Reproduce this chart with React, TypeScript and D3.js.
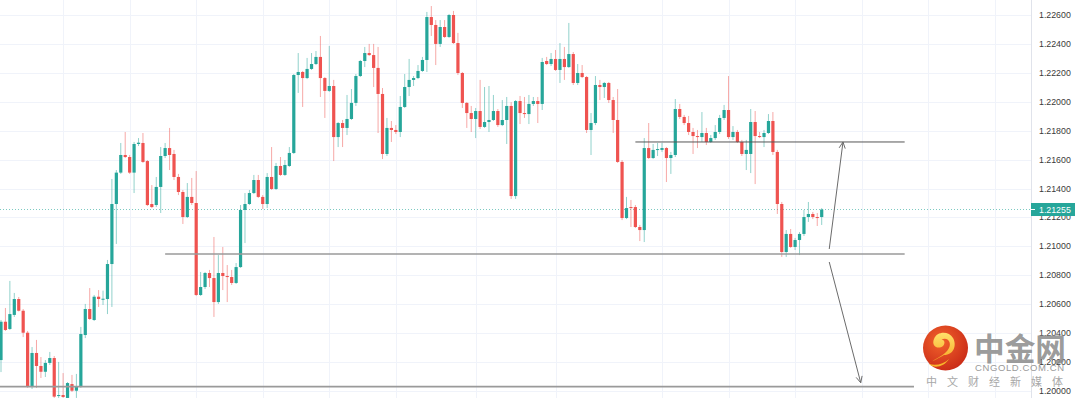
import React, { useEffect } from "react";
import * as d3 from "d3";

const W = 1080;
const H = 398;

// EURUSD-like candles
const opens = [
  1.20214, 1.20479, 1.20429, 1.20526, 1.20636, 1.20555, 1.20403, 1.2003, 1.20263, 1.20173,
  1.20133, 1.20194, 1.20228, 1.19965, 1.19972, 1.19952, 1.20048, 1.20002, 1.20028, 1.20387,
  1.20567, 1.20491, 1.20652, 1.20634, 1.20636, 1.20878, 1.21293, 1.2151, 1.21632, 1.21618,
  1.2151, 1.21708, 1.21715, 1.2159, 1.21293, 1.21286, 1.21411, 1.21625, 1.2168, 1.21639,
  1.2148, 1.21376, 1.21203, 1.21342, 1.213, 1.20664, 1.20719, 1.20816, 1.20781, 1.20615,
  1.20816, 1.20795, 1.20788, 1.20747, 1.20857, 1.21252, 1.21293, 1.21369, 1.21459, 1.21342,
  1.21293, 1.2148, 1.21397, 1.21556, 1.21494, 1.21556, 1.21646, 1.22185, 1.22206, 1.22164,
  1.22227, 1.22261, 1.2231, 1.22164, 1.22075, 1.22109, 1.21756, 1.21853, 1.21819, 1.21881,
  1.21992, 1.22178, 1.22282, 1.22337, 1.22323, 1.22234, 1.22054, 1.21639, 1.21819, 1.21805,
  1.21791, 1.21964, 1.22102, 1.22151, 1.22164, 1.22213, 1.22289, 1.22586, 1.22531, 1.224,
  1.22517, 1.22448, 1.226, 1.22406, 1.22199, 1.21992, 1.21922, 1.21881, 1.21936, 1.21826,
  1.2186, 1.21874, 1.21936, 1.21839, 1.21874, 1.21971, 1.21348, 1.22005, 1.21922, 1.21915,
  1.21985, 1.22005, 1.21985, 1.22282, 1.22261, 1.22296, 1.2222, 1.22296, 1.2224, 1.2233,
  1.2213, 1.22199, 1.22171, 1.21805, 1.21853, 1.22116, 1.22102, 1.2213, 1.22012, 1.21874,
  1.21584, 1.21196, 1.21272, 1.21272, 1.21134, 1.21113, 1.2168, 1.21611, 1.21667, 1.21667,
  1.2168, 1.21611, 1.21632, 1.2195, 1.21895, 1.21853, 1.21791, 1.21763, 1.21756, 1.21784,
  1.21722, 1.21749, 1.21791, 1.21888, 1.21943, 1.21756, 1.21791, 1.21722, 1.21639, 1.21639,
  1.2186, 1.21763, 1.21756, 1.21784, 1.21867, 1.21653, 1.21293, 1.20961, 1.21086, 1.20996,
  1.21044, 1.21086, 1.21203, 1.21224, 1.21203, 1.21203,
];
const closes = [
  1.20479, 1.20422, 1.20532, 1.20636, 1.20555, 1.20403, 1.2003, 1.20263, 1.20173, 1.20133,
  1.20194, 1.20228, 1.19961, 1.19972, 1.19959, 1.20055, 1.20002, 1.2003, 1.20394, 1.20567,
  1.20498, 1.20652, 1.20636, 1.20638, 1.20878, 1.21293, 1.2151, 1.21632, 1.21618, 1.2151,
  1.21708, 1.21717, 1.21584, 1.21286, 1.21272, 1.21411, 1.21625, 1.2168, 1.21632, 1.2148,
  1.21376, 1.21203, 1.21342, 1.213, 1.20664, 1.20719, 1.20816, 1.20781, 1.20615, 1.20816,
  1.20795, 1.20788, 1.20747, 1.20857, 1.21252, 1.21293, 1.21369, 1.21459, 1.21342, 1.21293,
  1.2148, 1.21397, 1.21556, 1.21494, 1.21563, 1.21646, 1.22185, 1.22206, 1.22164, 1.22227,
  1.22261, 1.2231, 1.22164, 1.22075, 1.22109, 1.21756, 1.21853, 1.21819, 1.21881, 1.21992,
  1.22178, 1.22282, 1.22337, 1.22323, 1.22234, 1.22054, 1.21639, 1.21819, 1.21805, 1.21791,
  1.21964, 1.22102, 1.22151, 1.22164, 1.22213, 1.22289, 1.22586, 1.22531, 1.224, 1.22517,
  1.22448, 1.226, 1.22406, 1.22199, 1.21992, 1.21922, 1.21881, 1.21936, 1.21826, 1.2186,
  1.21874, 1.21936, 1.21839, 1.21874, 1.21971, 1.21348, 1.22005, 1.21922, 1.21915, 1.21985,
  1.22005, 1.21985, 1.22275, 1.22261, 1.22296, 1.2222, 1.22296, 1.2224, 1.2233, 1.2213,
  1.22199, 1.22171, 1.21805, 1.21853, 1.22116, 1.22102, 1.2213, 1.22012, 1.21874, 1.21584,
  1.21196, 1.21265, 1.21265, 1.21134, 1.21113, 1.2168, 1.21611, 1.21667, 1.21673, 1.2168,
  1.21611, 1.21632, 1.2195, 1.21895, 1.21853, 1.21791, 1.21763, 1.21756, 1.21784, 1.21722,
  1.21749, 1.21791, 1.21888, 1.21943, 1.21756, 1.21791, 1.21722, 1.21639, 1.21667, 1.2186,
  1.21763, 1.21756, 1.21784, 1.21867, 1.21653, 1.21293, 1.20961, 1.21086, 1.20996, 1.21044,
  1.21086, 1.21203, 1.21224, 1.21203, 1.21196, 1.21255,
];
const highs = [
  1.20491, 1.20574, 1.20761, 1.20678, 1.2065, 1.20567, 1.20415, 1.20304, 1.20353, 1.20235,
  1.20214, 1.2027, 1.20242, 1.20201, 1.20124, 1.20062, 1.20111, 1.20118, 1.20443, 1.20602,
  1.20712, 1.20664, 1.20698, 1.20694, 1.20906, 1.21466, 1.21528, 1.21715, 1.21791, 1.21632,
  1.21722, 1.21749, 1.21784, 1.21597, 1.21424, 1.2148, 1.21687, 1.21715, 1.21819, 1.21667,
  1.21501, 1.2139, 1.21438, 1.21473, 1.21521, 1.20823, 1.20823, 1.20837, 1.21065, 1.2094,
  1.20996, 1.20871, 1.20837, 1.20885, 1.21286, 1.21369, 1.2139, 1.21494, 1.21494, 1.21355,
  1.21507, 1.21687, 1.21577, 1.21618, 1.21597, 1.21687, 1.22192, 1.22337, 1.22213, 1.22303,
  1.22337, 1.22351, 1.22455, 1.22171, 1.22386, 1.22151, 1.2186, 1.21874, 1.22047, 1.22088,
  1.22192, 1.22289, 1.22379, 1.224, 1.224, 1.22379, 1.22095, 1.21888, 1.21867, 1.21839,
  1.2204, 1.22192, 1.22296, 1.22178, 1.22254, 1.2231, 1.22621, 1.22662, 1.22565, 1.22565,
  1.22565, 1.22607, 1.22628, 1.22476, 1.22206, 1.21998, 1.21971, 1.21957, 1.22151, 1.22102,
  1.22109, 1.22047, 1.2195, 1.22012, 1.22033, 1.21998, 1.22012, 1.2204, 1.22033, 1.22047,
  1.22033, 1.22033, 1.22303, 1.2231, 1.22337, 1.22358, 1.22406, 1.22379, 1.22545, 1.22344,
  1.22261, 1.22254, 1.22178, 1.21922, 1.22178, 1.22151, 1.22137, 1.22137, 1.22033, 1.22088,
  1.21597, 1.21342, 1.21321, 1.21286, 1.21148, 1.21749, 1.21853, 1.21708, 1.21715, 1.21715,
  1.21687, 1.21653, 1.22019, 1.21985, 1.21909, 1.21902, 1.21819, 1.21805, 1.21929, 1.21819,
  1.2177, 1.21839, 1.21909, 1.21978, 1.22178, 1.21832, 1.21805, 1.21736, 1.21736, 1.2195,
  1.21936, 1.21791, 1.21805, 1.21915, 1.21929, 1.21667, 1.21307, 1.21113, 1.2112, 1.21058,
  1.21099, 1.21252, 1.21307, 1.21238, 1.21231, 1.21265,
];
const lows = [
  1.20131, 1.20415, 1.20422, 1.20512, 1.2055, 1.20373, 1.20021, 1.20014, 1.20021, 1.2009,
  1.20097, 1.2018, 1.19952, 1.19952, 1.19952, 1.19945, 1.19993, 1.19952, 1.20021, 1.20366,
  1.20491, 1.20484, 1.20581, 1.20595, 1.20532, 1.20581, 1.21017, 1.21501, 1.21611, 1.21501,
  1.21369, 1.21694, 1.21577, 1.21279, 1.21265, 1.21272, 1.21231, 1.21611, 1.21528, 1.21459,
  1.21355, 1.21155, 1.21196, 1.21286, 1.20657, 1.20657, 1.20705, 1.20719, 1.20512, 1.20602,
  1.20698, 1.20615, 1.20733, 1.2074, 1.20851, 1.21023, 1.21286, 1.21362, 1.21335, 1.21259,
  1.21265, 1.2139, 1.2139, 1.21487, 1.21487, 1.21549, 1.21639, 1.22061, 1.21964, 1.22157,
  1.2222, 1.22254, 1.22033, 1.21888, 1.22068, 1.2159, 1.21687, 1.21687, 1.2177, 1.21874,
  1.21971, 1.22171, 1.2224, 1.22317, 1.22102, 1.21784, 1.21604, 1.21625, 1.21722, 1.21777,
  1.21756, 1.21957, 1.2204, 1.22109, 1.22157, 1.22206, 1.22206, 1.22455, 1.22254, 1.22379,
  1.22441, 1.22441, 1.224, 1.22185, 1.21957, 1.21819, 1.21791, 1.21749, 1.21812, 1.21819,
  1.21791, 1.21867, 1.21826, 1.21832, 1.21708, 1.21328, 1.21328, 1.21846, 1.21888, 1.21846,
  1.21971, 1.21853, 1.21943, 1.22254, 1.22247, 1.22213, 1.2213, 1.22151, 1.22234, 1.22116,
  1.22116, 1.22164, 1.21784, 1.21632, 1.21839, 1.22012, 1.22026, 1.21992, 1.21784, 1.21577,
  1.21182, 1.21189, 1.21134, 1.21127, 1.21037, 1.2103, 1.21604, 1.21604, 1.21625, 1.21653,
  1.21445, 1.21501, 1.21618, 1.21881, 1.21839, 1.2177, 1.21639, 1.2168, 1.21722, 1.21701,
  1.21715, 1.21736, 1.21777, 1.21874, 1.21743, 1.21736, 1.21715, 1.21625, 1.21528, 1.21507,
  1.21431, 1.21749, 1.21687, 1.21777, 1.21632, 1.21224, 1.20927, 1.20927, 1.20989, 1.20975,
  1.2094, 1.21072, 1.21169, 1.21189, 1.21141, 1.21148,
];

const priceTicks = [
  1.2, 1.202, 1.204, 1.206, 1.208, 1.21, 1.212, 1.214, 1.216, 1.218, 1.22, 1.222, 1.224, 1.226,
];
// bar indices where the time grid lines fall
const timeGrid = [14, 29, 44, 59, 74, 89, 107, 125, 149, 164, 179, 194, 209, 224];
const lastPrice = 1.21255;

// drawn levels: price, first bar, last bar
const levelPrices = [1.21722, 1.20947, 1.2003];
const levelStart = [143, 37, -1];
const levelEnd = [203.7, 203.7, 205.8];

// arrows: [bar, price] -> [bar, price]
const arrowUp = [[186.7, 1.20982], [189.8, 1.21722]];
const arrowDown = [[186.7, 1.20892], [193.8, 1.20057]];

const UP = "#26a69a";
const DOWN = "#ef5350";

export default function App() {
  useEffect(() => {
    document.body.style.margin = "0";
  }, []);

  const plotRight = 1031;
  const x = d3.scaleLinear().domain([0, 185]).range([1, 821.7]);
  const y = d3.scaleLinear().domain([1.2, 1.226]).range([391, 15]);
  const bodyW = 3.2;

  const arrowHead = (pts: number[][]) => {
    const [x1, y1] = [x(pts[0][0]), y(pts[0][1])];
    const [x2, y2] = [x(pts[1][0]), y(pts[1][1])];
    const a = Math.atan2(y2 - y1, x2 - x1);
    const len = 7;
    const sp = 0.45;
    const p1 = [x2 - len * Math.cos(a - sp), y2 - len * Math.sin(a - sp)];
    const p2 = [x2 - len * Math.cos(a + sp), y2 - len * Math.sin(a + sp)];
    return (
      <g stroke="#6b6b6b" strokeWidth={1} fill="none">
        <line x1={x1} y1={y1} x2={x2} y2={y2} />
        <path d={`M${p1[0]},${p1[1]} L${x2},${y2} L${p2[0]},${p2[1]}`} />
      </g>
    );
  };

  return (
    <svg width={W} height={H} style={{ display: "block", background: "#fff" }}
      fontFamily="'Liberation Sans', Arial, sans-serif">
      <defs>
        <clipPath id="plot">
          <rect x={0} y={0} width={plotRight} height={H} />
        </clipPath>
        <radialGradient id="logoBg" cx="40%" cy="35%" r="70%">
          <stop offset="0%" stopColor="#f2632c" />
          <stop offset="100%" stopColor="#c92a17" />
        </radialGradient>
        <linearGradient id="logoSwirl" x1="0" y1="0" x2="0" y2="1">
          <stop offset="0%" stopColor="#ffe16a" />
          <stop offset="100%" stopColor="#f6a21e" />
        </linearGradient>
      </defs>

      {/* grid */}
      <g stroke="#f0f3fa" strokeWidth={1}>
        {priceTicks.map((p) => (
          <line key={p} x1={0} x2={plotRight} y1={Math.round(y(p)) + 0.5} y2={Math.round(y(p)) + 0.5} />
        ))}
        {timeGrid.map((i) => (
          <line key={i} y1={0} y2={H} x1={Math.round(x(i)) + 0.5} x2={Math.round(x(i)) + 0.5} />
        ))}
      </g>

      <g clipPath="url(#plot)">
        {/* last price dotted line */}
        <line x1={0} x2={plotRight} y1={y(lastPrice)} y2={y(lastPrice)}
          stroke={UP} strokeOpacity={0.6} strokeDasharray="1 2" />

        {/* candles */}
        {opens.map((o, i) => {
          const c = closes[i];
          const col = c >= o ? UP : DOWN;
          const cx = x(i);
          const top = y(Math.max(o, c));
          const bot = y(Math.min(o, c));
          return (
            <g key={i}>
              <line x1={cx} x2={cx} y1={y(highs[i])} y2={y(lows[i])} stroke={col} strokeOpacity={0.5} strokeWidth={1} />
              <rect x={cx - bodyW / 2} y={top} width={bodyW} height={Math.max(1, bot - top)} fill={col} />
            </g>
          );
        })}

        {/* horizontal levels */}
        {levelPrices.map((p, k) => (
          <line key={p} x1={x(levelStart[k])} x2={x(levelEnd[k])} y1={y(p)} y2={y(p)}
            stroke={k === 0 ? "#555" : "#9a9a9a"} strokeWidth={k === 0 ? 1 : 1.6} />
        ))}
        {arrowHead(arrowUp)}
        {arrowHead(arrowDown)}
      </g>

      {/* right price axis */}
      <line x1={plotRight + 0.5} x2={plotRight + 0.5} y1={0} y2={H} stroke="#e0e3eb" />
      <g fontSize={8.8} fill="#3a3a3a">
        {priceTicks.map((p) => (
          <text key={p} x={1039} y={y(p)} dominantBaseline="central">{p.toFixed(5)}</text>
        ))}
      </g>
      <rect x={plotRight} y={y(lastPrice) - 6.5} width={44} height={13} fill={UP} />
      <line x1={plotRight} x2={plotRight + 4} y1={y(lastPrice)} y2={y(lastPrice)} stroke="#fff" />
      <text x={1039} y={y(lastPrice)} dominantBaseline="central" fontSize={8.8} fill="#fff">
        {lastPrice.toFixed(5)}
      </text>

      {/* watermark */}
      <g>
        <circle cx={945.5} cy={348} r={22.5} fill="url(#logoBg)" />
        <path d="M944,355 C954,355 957,345 953,338 C949,331 937,331 934,339 C931,346 938,350 943,346
                 C946,343 944,339 941,340 C947,336 952,342 949,348 C945,356 935,358 929,364
                 C933,360 940,358 944,355 Z"
          fill="url(#logoSwirl)" />
        <path d="M929,364 C936,366 944,364 949,359 C944,367 934,369 929,364 Z" fill="#f8b52a" />
        <text x={974} y={346} fontSize={31} fontWeight={700} fill="#8e8e8e" fillOpacity={0.9}
          fontFamily="'Noto Sans CJK SC', sans-serif" dominantBaseline="central"
          textLength={92} lengthAdjust="spacingAndGlyphs">中金网</text>
        <text x={975} y={367} fontSize={9.5} fill="#9a9a9a" dominantBaseline="central"
          textLength={89} lengthAdjust="spacing">CNGOLD.COM.CN</text>
        <text x={926} y={381} fontSize={11} fill="#a8a8a8" dominantBaseline="central"
          fontFamily="'Noto Sans CJK SC', sans-serif"
          textLength={137} lengthAdjust="spacing">中文财经新媒体</text>
      </g>
    </svg>
  );
}
